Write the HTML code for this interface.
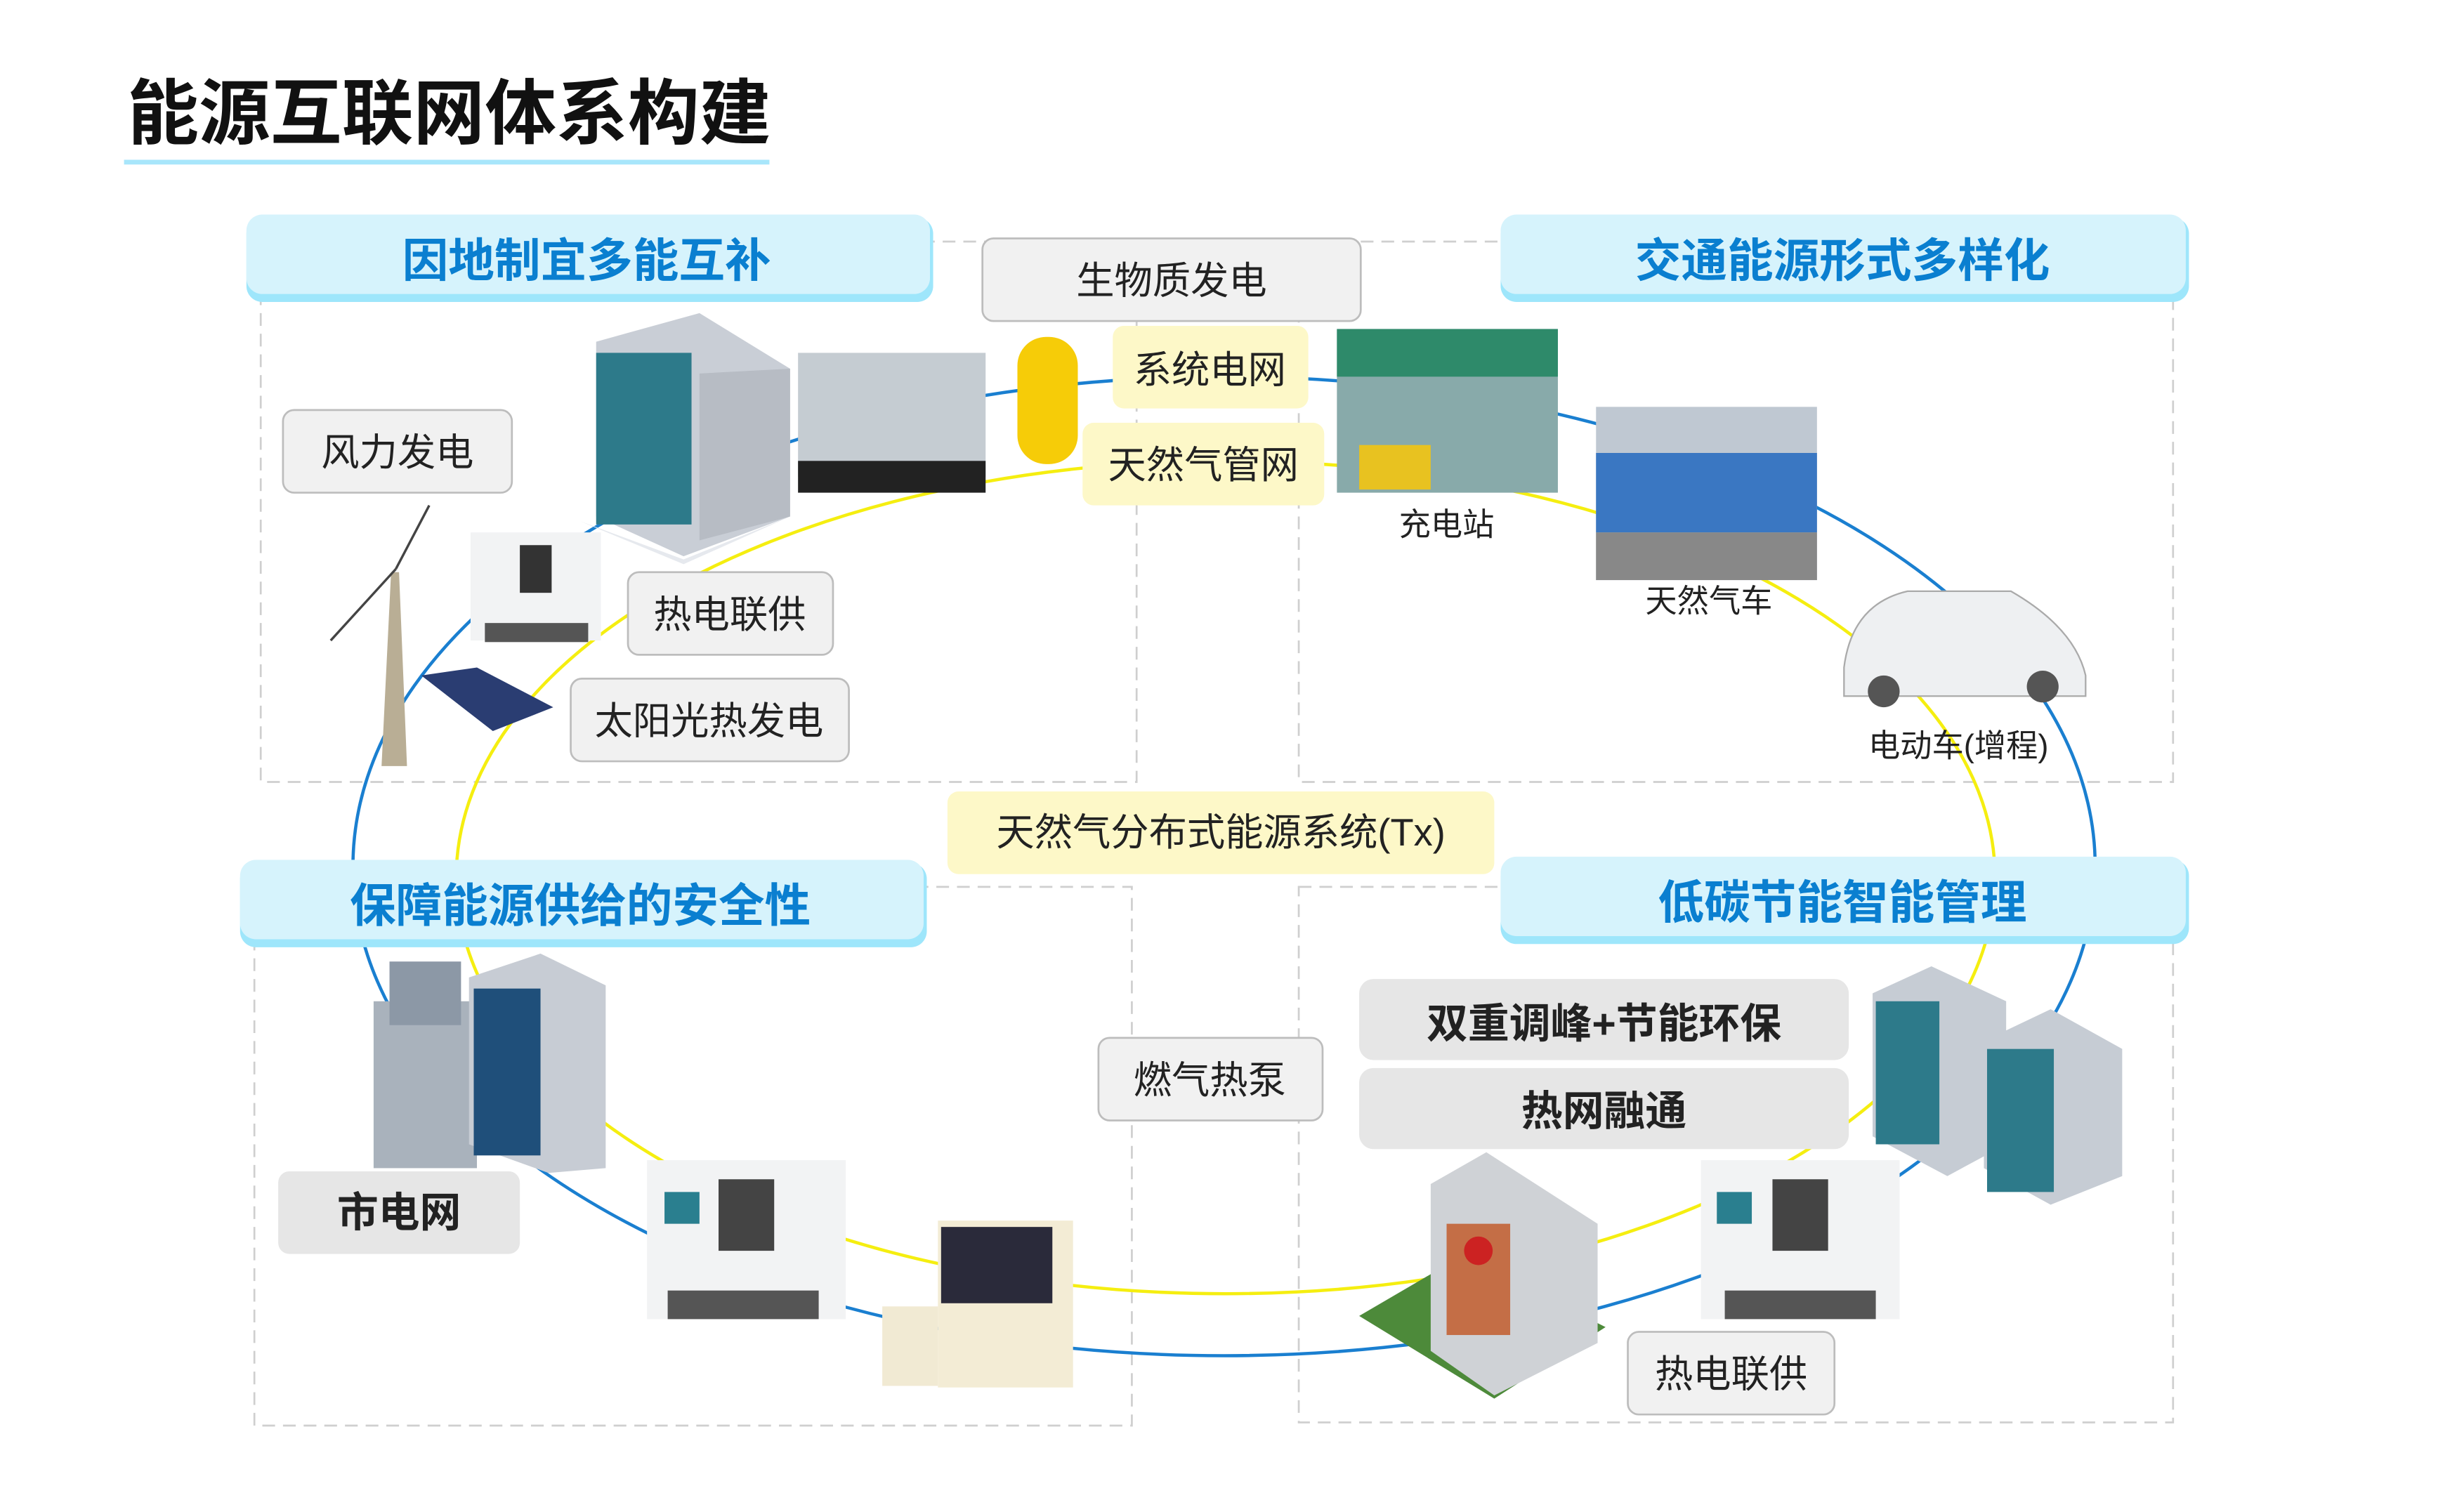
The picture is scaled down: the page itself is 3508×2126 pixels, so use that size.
<!DOCTYPE html>
<html><head><meta charset="utf-8"><style>
html,body{margin:0;padding:0;background:#fff}
svg{display:block}
text{font-family:"Liberation Sans","Noto Sans CJK SC",sans-serif}
</style></head><body>
<svg width="3508" height="2126" viewBox="0 0 1550 939.4" xmlns="http://www.w3.org/2000/svg">
<rect width="1550" height="940" fill="#fff"/>
<text x="80" y="87" font-size="45" font-weight="bold" fill="#111">能源互联网体系构建</text>
<line x1="78" y1="102" x2="484" y2="102" stroke="#a8e6fb" stroke-width="3"/>
<g fill="none" stroke="#cfcfcf" stroke-width="1.2" stroke-dasharray="8,5">
<rect x="164" y="152" width="551" height="340"/>
<rect x="817" y="152" width="550" height="340"/>
<rect x="160" y="558" width="552" height="339"/>
<rect x="817" y="558" width="550" height="337"/>
</g>
<ellipse cx="770" cy="545" rx="548" ry="308" fill="none" stroke="#1a7fd0" stroke-width="2"/>
<ellipse cx="771" cy="552" rx="484" ry="262" fill="none" stroke="#f5ee10" stroke-width="2"/>
<!-- headers -->
<g>
<rect x="155" y="137" width="432" height="53" rx="10" fill="#9ee6fb"/>
<rect x="155" y="135" width="430" height="50" rx="10" fill="#d6f3fc"/>
<rect x="944" y="137" width="433" height="53" rx="10" fill="#9ee6fb"/>
<rect x="944" y="135" width="431" height="50" rx="10" fill="#d6f3fc"/>
<rect x="151" y="543" width="432" height="53" rx="10" fill="#9ee6fb"/>
<rect x="151" y="541" width="430" height="50" rx="10" fill="#d6f3fc"/>
<rect x="944" y="541" width="433" height="53" rx="10" fill="#9ee6fb"/>
<rect x="944" y="539" width="431" height="50" rx="10" fill="#d6f3fc"/>
</g>
<g font-size="29" font-weight="bold" fill="#0a7fd0" text-anchor="middle">
<text x="369" y="174">因地制宜多能互补</text>
<text x="1159" y="174">交通能源形式多样化</text>
<text x="365" y="580">保障能源供给的安全性</text>
<text x="1159" y="578">低碳节能智能管理</text>
</g>
<!-- images approximations -->
<g>
<polygon points="375,215 440,197 497,232 497,325 430,350 375,325" fill="#c9ced6"/>
<rect x="375" y="222" width="60" height="108" fill="#2d7a8a"/>
<polygon points="440,235 497,232 497,325 440,340" fill="#b7bcc4"/>
<polygon points="365,328 430,352 497,325 430,355" fill="#e6e9ee"/>
<rect x="502" y="222" width="118" height="78" fill="#c5ccd2"/>
<rect x="502" y="290" width="118" height="20" fill="#222"/>
<rect x="640" y="212" width="38" height="80" rx="18" fill="#f6cc08"/>
<rect x="296" y="335" width="82" height="68" fill="#f2f3f4"/>
<rect x="305" y="392" width="65" height="12" fill="#555"/>
<rect x="327" y="343" width="20" height="30" fill="#333"/>
<polygon points="240,482 246,360 251,360 256,482" fill="#b9ae95"/>
<line x1="249" y1="358" x2="208" y2="403" stroke="#444" stroke-width="1.5"/>
<line x1="249" y1="358" x2="270" y2="318" stroke="#444" stroke-width="1.5"/>
<polygon points="265,425 300,420 348,445 310,460" fill="#2a3d72"/>
<rect x="841" y="207" width="139" height="103" fill="#8aa"/>
<rect x="841" y="207" width="139" height="30" fill="#2e8a6a"/>
<rect x="855" y="280" width="45" height="28" fill="#e8c220"/>
<rect x="1004" y="256" width="139" height="109" fill="#bfc8d2"/>
<rect x="1004" y="285" width="139" height="50" fill="#3a77c2"/>
<rect x="1004" y="335" width="139" height="30" fill="#888"/>
<path d="M1160,420 Q1165,380 1200,372 L1265,372 Q1305,395 1312,425 L1312,438 L1160,438 Z" fill="#eef0f2" stroke="#aaa"/>
<circle cx="1185" cy="435" r="10" fill="#555"/><circle cx="1285" cy="432" r="10" fill="#555"/>
<rect x="235" y="630" width="65" height="105" fill="#a9b2bc"/>
<rect x="245" y="605" width="45" height="40" fill="#8c98a6"/>
<polygon points="295,615 340,600 381,620 381,735 345,738 295,720" fill="#c7ccd4"/>
<rect x="298" y="622" width="42" height="105" fill="#1f4f7a"/>
<rect x="407" y="730" width="125" height="100" fill="#f2f3f4"/>
<rect x="420" y="812" width="95" height="18" fill="#555"/>
<rect x="452" y="742" width="35" height="45" fill="#444"/>
<rect x="418" y="750" width="22" height="20" fill="#2a7f8f"/>
<rect x="590" y="768" width="85" height="105" fill="#f3ecd5"/>
<rect x="592" y="772" width="70" height="48" fill="#2a2a3a"/>
<rect x="555" y="822" width="35" height="50" fill="#f1ead3"/>
<polygon points="855,828 920,790 1010,835 940,880" fill="#4d8a3a"/>
<polygon points="900,745 935,725 1005,770 1005,845 940,878 900,850" fill="#cfd2d6"/>
<rect x="910" y="770" width="40" height="70" fill="#c46e46"/>
<circle cx="930" cy="787" r="9" fill="#c22"/>
<rect x="1070" y="730" width="125" height="100" fill="#f2f3f4"/>
<rect x="1085" y="812" width="95" height="18" fill="#555"/>
<rect x="1115" y="742" width="35" height="45" fill="#444"/>
<rect x="1080" y="750" width="22" height="20" fill="#2a7f8f"/>
<polygon points="1178,625 1215,608 1262,630 1262,720 1225,740 1178,715" fill="#c6ccd4"/>
<rect x="1180" y="630" width="40" height="90" fill="#2d7a8a"/>
<polygon points="1248,655 1290,635 1335,660 1335,740 1290,758 1248,735" fill="#c6ccd4"/>
<rect x="1250" y="660" width="42" height="90" fill="#2d7a8a"/>
</g>
<!-- grey labels -->
<g fill="#f1f1f1" stroke="#bdbdbd" stroke-width="1.2">
<rect x="618" y="150" width="238" height="52" rx="7"/>
<rect x="178" y="258" width="144" height="52" rx="7"/>
<rect x="395" y="360" width="129" height="52" rx="7"/>
<rect x="359" y="427" width="175" height="52" rx="7"/>
<rect x="691" y="653" width="141" height="52" rx="7"/>
<rect x="1024" y="838" width="130" height="52" rx="7"/>
</g>
<g fill="#e6e6e6">
<rect x="175" y="737" width="152" height="52" rx="7"/>
<rect x="855" y="616" width="308" height="51" rx="9"/>
<rect x="855" y="672" width="308" height="51" rx="9"/>
</g>
<g fill="#fdf8c8">
<rect x="700" y="205" width="123" height="52" rx="7"/>
<rect x="681" y="266" width="152" height="52" rx="7"/>
<rect x="596" y="498" width="344" height="52" rx="7"/>
</g>
<g font-size="24" fill="#222" text-anchor="middle">
<text x="737" y="185">生物质发电</text>
<text x="250" y="293">风力发电</text>
<text x="459" y="395">热电联供</text>
<text x="446" y="462">太阳光热发电</text>
<text x="761" y="688">燃气热泵</text>
<text x="1089" y="873">热电联供</text>
<text x="761" y="241">系统电网</text>
<text x="757" y="301">天然气管网</text>
<text x="768" y="532">天然气分布式能源系统(Tx)</text>
</g>
<g font-size="26" font-weight="bold" fill="#222" text-anchor="middle">
<text x="251" y="772">市电网</text>
<text x="1009" y="653">双重调峰+节能环保</text>
<text x="1009" y="708">热网融通</text>
</g>
<g font-size="20" fill="#222" text-anchor="middle">
<text x="910" y="337">充电站</text>
<text x="1075" y="385">天然气车</text>
<text x="1232" y="476">电动车(增程)</text>
</g>
</svg>
</body></html>
